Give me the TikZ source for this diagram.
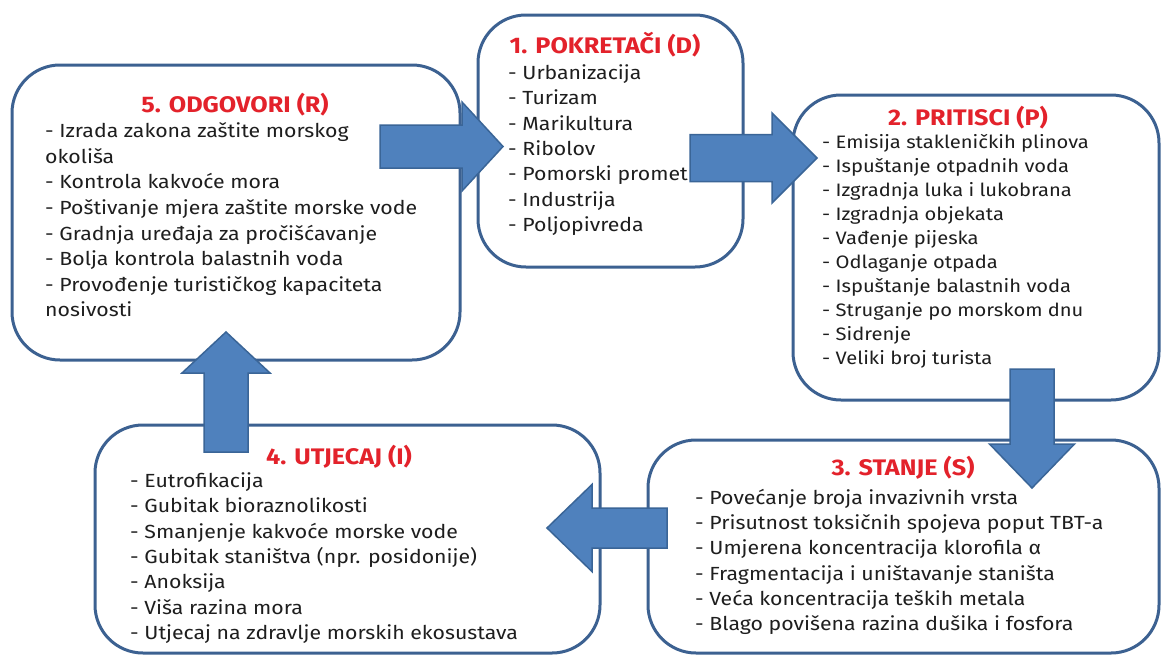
\documentclass[tikz,border=0pt]{standalone}
\usepackage{fontspec}
\setmainfont{Fira Sans}[FakeStretch=1.12]
\usetikzlibrary{calc}
\definecolor{boxblue}{HTML}{3C6191}
\definecolor{arrfill}{HTML}{4F81BD}
\definecolor{arrline}{HTML}{3A6597}
\definecolor{titlered}{HTML}{E3222B}
\definecolor{txt}{HTML}{1E1E1E}
\newcommand{\blockarr}[5]{%
  \coordinate (ba-h) at ($(#2)!#5!(#1)$);
  \draw[barrow] ($(#1)!#3!90:(#2)$) -- ($(ba-h)!#3!-90:(#1)$) -- ($(ba-h)!#4!-90:(#1)$)
    -- (#2) -- ($(ba-h)!#4!90:(#1)$) -- ($(ba-h)!#3!90:(#1)$) -- ($(#1)!#3!-90:(#2)$) -- cycle;}
\tikzset{
  box/.style={draw=boxblue, line width=3pt, rounded corners=48pt, fill=white, inner sep=0pt, rectangle},
  ttl/.style={text=titlered, font=\fontsize{22.5}{24}\selectfont\bfseries, anchor=base, inner sep=0pt},
  lst/.style={text=txt, align=left, anchor=north west, inner sep=0pt},
  barrow/.style={fill=arrfill, draw=arrline, line width=1.5pt, line join=miter},
}
\begin{document}
\begin{tikzpicture}[x=1pt,y=1pt]
\useasboundingbox (0,0) rectangle (1163,-657);
\fill[white] (0,0) rectangle (1163,-657);
% boxes
\node[box, minimum width=448pt, minimum height=295pt] (R) at (236,-212.5) {};
\node[box, minimum width=265pt, minimum height=252pt] (D) at (610.5,-141) {};
\node[box, minimum width=366pt, minimum height=305pt] (P) at (976,-247.5) {};
\node[box, minimum width=511pt, minimum height=213pt] (S) at (903.5,-546.5) {};
\node[box, minimum width=505pt, minimum height=228pt] (I) at (347.5,-539) {};
% titles
\node[ttl] (Rt) at (235,-112) {5. ODGOVORI (R)};
\node[ttl] (Dt) at (605,-53) {1. POKRETAČI (D)};
\node[ttl] (Pt) at (968,-125) {2. PRITISCI (P)};
\node[ttl] (St) at (903,-475) {3. STANJE (S)};
\node[ttl] (It) at (339,-464) {4. UTJECAJ (I)};
% lists
\node[lst, font=\fontsize{19}{25.6}\selectfont] (Rl) at (45,-122.5) {%
- Izrada zakona zaštite morskog\\
okoliša\\
- Kontrola kakvoće mora\\
- Poštivanje mjera zaštite morske vode\\
- Gradnja uređaja za pročišćavanje\\
- Bolja kontrola balastnih voda\\
- Provođenje turističkog kapaciteta\\
nosivosti};
\node[lst, font=\fontsize{19}{25.3}\selectfont] (Dl) at (508,-64.5) {%
- Urbanizacija\\
- Turizam\\
- Marikultura\\
- Ribolov\\
- Pomorski promet\\
- Industrija\\
- Poljopivreda};
\node[lst, font=\fontsize{18}{23.9}\selectfont] (Pl) at (822,-134.6) {%
- Emisija stakleničkih plinova\\
- Ispuštanje otpadnih voda\\
- Izgradnja luka i lukobrana\\
- Izgradnja objekata\\
- Vađenje pijeska\\
- Odlaganje otpada\\
- Ispuštanje balastnih voda\\
- Struganje po morskom dnu\\
- Sidrenje\\
- Veliki broj turista};
\node[lst, font=\fontsize{19}{25.2}\selectfont] (Sl) at (695,-489.1) {%
- Povećanje broja invazivnih vrsta\\
- Prisutnost toksičnih spojeva poput TBT-a\\
- Umjerena koncentracija klorofila α\\
- Fragmentacija i uništavanje staništa\\
- Veća koncentracija teških metala\\
- Blago povišena razina dušika i fosfora};
\node[lst, font=\fontsize{19}{25.3}\selectfont] (Il) at (130,-472.5) {%
- Eutrofikacija\\
- Gubitak bioraznolikosti\\
- Smanjenje kakvoće morske vode\\
- Gubitak staništva (npr. posidonije)\\
- Anoksija\\
- Viša razina mora\\
- Utjecaj na zdravlje morskih ekosustava};
% arrow end points
\coordinate (a1s) at (380,-146.5);
\coordinate (a1t) at (503,-146.5);
\coordinate (a2s) at (690,-158);
\coordinate (a2t) at (817,-158);
\coordinate (a3s) at (1032,-369);
\coordinate (a3t) at (1032,-488);
\coordinate (a4s) at (667,-528);
\coordinate (a4t) at (547,-528);
\coordinate (a5s) at (226,-452);
\coordinate (a5t) at (226,-332);
\blockarr{a1s}{a1t}{21.5pt}{44.5pt}{41pt}
\blockarr{a2s}{a2t}{23.5pt}{45pt}{45pt}
\blockarr{a3s}{a3t}{22pt}{42.5pt}{44pt}
\blockarr{a4s}{a4t}{20pt}{43.5pt}{45pt}
\blockarr{a5s}{a5t}{22pt}{44pt}{41pt}
\end{tikzpicture}
\end{document}
